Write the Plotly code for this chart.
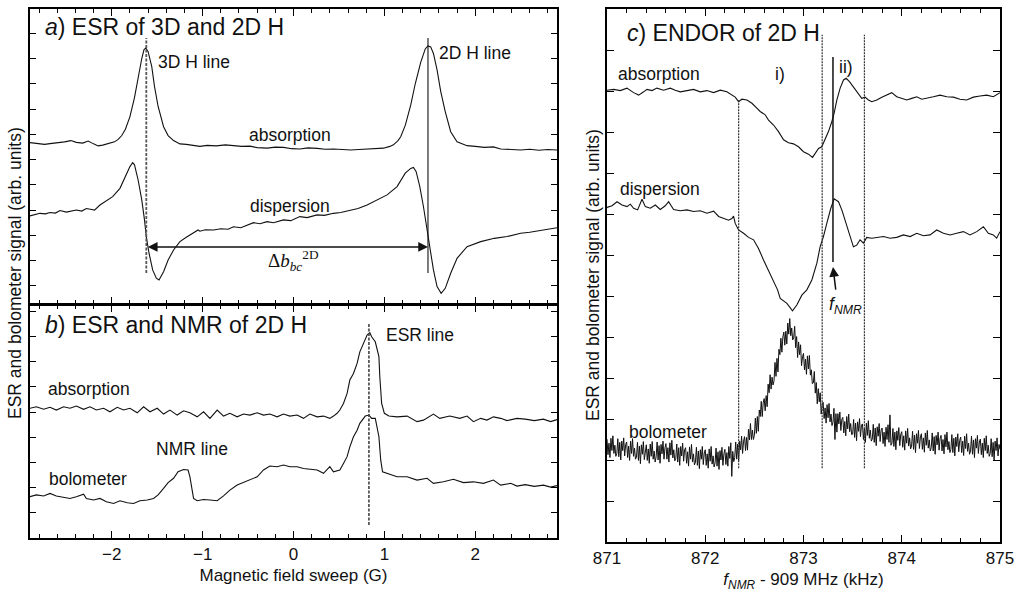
import numpy as np
import plotly.graph_objects as go

# ---------------- panel a: ESR of 3D and 2D H (field sweep, G) ----------------
a_abs_x = [-2.90, -2.80, -2.74, -2.68, -2.60, -2.52, -2.45, -2.39, -2.32, -2.26, -2.20, -2.15, -2.10,
           -2.03, -1.97, -1.93, -1.89, -1.85, -1.80, -1.75, -1.71, -1.67, -1.645, -1.625, -1.60, -1.56,
           -1.53, -1.49, -1.43, -1.38, -1.32, -1.25, -1.18, -1.10, -1.03, -0.95, -0.85, -0.75, -0.66,
           -0.57, -0.48, -0.40, -0.29, -0.20, -0.11, -0.02, 0.07, 0.16, 0.26, 0.35, 0.44, 0.53, 0.63,
           0.72, 0.81, 0.90, 0.99, 1.06, 1.10, 1.15, 1.18, 1.23, 1.29, 1.34, 1.40, 1.45, 1.48, 1.51,
           1.54, 1.58, 1.62, 1.67, 1.73, 1.80, 1.87, 1.91, 2.00, 2.10, 2.20, 2.28, 2.40, 2.50, 2.60,
           2.70, 2.80, 2.90]
a_abs_y = [5.67, 5.64, 5.60, 5.63, 5.66, 5.70, 5.75, 5.68, 5.65, 5.73, 5.62, 5.54, 5.57,
           5.63, 5.70, 5.80, 5.95, 6.20, 6.70, 7.45, 8.25, 9.00, 9.35, 9.41, 9.27, 8.68,
           7.90, 7.10, 6.30, 5.95, 5.75, 5.62, 5.60, 5.56, 5.52, 5.56, 5.54, 5.58, 5.56,
           5.52, 5.53, 5.47, 5.45, 5.49, 5.48, 5.43, 5.42, 5.46, 5.44, 5.41, 5.42, 5.39, 5.38,
           5.40, 5.41, 5.43, 5.45, 5.52, 5.58, 5.75, 5.90, 6.35, 7.15, 8.00, 8.85, 9.38, 9.50, 9.46,
           9.20, 8.55, 7.70, 6.90, 6.10, 5.70, 5.60, 5.55, 5.52, 5.48, 5.50, 5.42, 5.40, 5.38, 5.41,
           5.37, 5.40, 5.38]

a_disp_x = [-2.90, -2.84, -2.79, -2.73, -2.68, -2.62, -2.57, -2.50, -2.45, -2.39, -2.33, -2.28, -2.22,
            -2.19, -2.13, -2.06, -1.99, -1.91, -1.86, -1.80, -1.77, -1.75, -1.71, -1.67, -1.64, -1.62,
            -1.59, -1.55, -1.51, -1.48, -1.43, -1.38, -1.32, -1.25, -1.18, -1.10, -1.05, -1.03, -0.97,
            -0.88, -0.80, -0.72, -0.66, -0.58, -0.50, -0.44, -0.37, -0.29, -0.22, -0.15, -0.11, -0.03,
            0.07, 0.15, 0.26, 0.34, 0.44, 0.52, 0.63, 0.71, 0.81, 0.92, 1.03, 1.14, 1.23, 1.29, 1.32,
            1.35, 1.39, 1.43, 1.47, 1.51, 1.54, 1.58, 1.625, 1.67, 1.73, 1.80, 1.91, 2.06, 2.21, 2.35,
            2.50, 2.60, 2.70, 2.80, 2.90]
a_disp_y = [2.77, 2.84, 2.87, 2.85, 2.90, 2.88, 2.98, 2.92, 2.97, 3.00, 2.96, 3.06, 3.02,
            3.00, 3.20, 3.36, 3.53, 3.86, 4.26, 4.72, 4.88, 4.79, 4.19, 3.40, 2.61, 1.95,
            1.29, 0.63, 0.30, 0.23, 0.56, 1.02, 1.42, 1.75, 1.92, 2.08, 2.21, 2.16, 2.22,
            2.21, 2.26, 2.24, 2.34, 2.30, 2.40, 2.50, 2.46, 2.54, 2.50, 2.58, 2.61, 2.58,
            2.74, 2.70, 2.81, 2.79, 2.87, 2.90, 3.00, 3.06, 3.20, 3.40, 3.60, 3.93, 4.46, 4.65, 4.69,
            4.52, 3.93, 3.14, 2.21, 1.42, 0.63, -0.03, -0.30, -0.10, 0.50, 1.09, 1.55, 1.75, 1.88, 1.95,
            2.08, 2.12, 2.18, 2.25, 2.30]

line_3d = -1.62          # 3D H resonance field (G)
line_2d = 1.48           # 2D H resonance field (G)
a_marker_span = [0.51, 9.81]
delta_b_level = 1.54

# ---------------- panel b: ESR and NMR of 2D H ----------------
b_abs_x = [-2.90, -2.83, -2.75, -2.68, -2.61, -2.53, -2.46, -2.39, -2.31, -2.24, -2.17, -2.09, -2.02,
           -1.94, -1.87, -1.80, -1.72, -1.65, -1.58, -1.50, -1.43, -1.36, -1.28, -1.21, -1.14, -1.06,
           -0.99, -0.92, -0.84, -0.77, -0.70, -0.62, -0.55, -0.48, -0.40, -0.33, -0.26, -0.18, -0.11,
           -0.04, 0.04, 0.11, 0.18, 0.26, 0.33, 0.40, 0.44, 0.48, 0.51, 0.55, 0.59, 0.62, 0.66, 0.70,
           0.73, 0.77, 0.81, 0.84, 0.86, 0.90, 0.94, 0.95, 0.97, 1.00, 1.05, 1.14, 1.25, 1.36, 1.43,
           1.54, 1.61, 1.72, 1.83, 1.91, 1.98, 2.06, 2.13, 2.20, 2.28, 2.35, 2.46, 2.55, 2.65, 2.75,
           2.83, 2.90]
b_abs_y = [5.15, 5.21, 5.11, 5.19, 5.08, 5.21, 5.15, 5.24, 5.11, 5.21, 5.08, 5.15, 5.01,
           5.19, 5.08, 5.15, 4.97, 5.21, 5.01, 5.15, 4.92, 5.08, 4.88, 5.05, 4.97, 4.81,
           5.01, 4.75, 5.08, 4.84, 4.95, 4.81, 4.92, 4.88, 4.97, 4.88, 4.92, 4.81, 4.92,
           4.84, 4.88, 4.75, 4.92, 4.81, 4.84, 4.75, 4.84, 4.95, 5.08, 5.34, 5.74, 6.27, 6.53, 6.93,
           7.39, 7.72, 8.06, 8.15, 7.99, 7.79, 7.20, 6.40, 5.34, 4.95, 4.84, 4.81, 4.84, 4.62, 4.68,
           4.92, 4.75, 4.84, 4.75, 4.84, 4.62, 4.75, 4.68, 4.81, 4.75, 4.66, 4.75, 4.72, 4.66, 4.72,
           4.62, 4.70]

b_bolo_x = [-2.90, -2.83, -2.75, -2.68, -2.61, -2.53, -2.46, -2.39, -2.31, -2.28, -2.20, -2.13, -2.06,
            -1.98, -1.91, -1.83, -1.76, -1.69, -1.61, -1.54, -1.49, -1.43, -1.38, -1.32, -1.27, -1.21,
            -1.16, -1.14, -1.12, -1.10, -1.06, -0.99, -0.92, -0.84, -0.77, -0.70, -0.62, -0.55, -0.48,
            -0.40, -0.33, -0.26, -0.18, -0.11, -0.04, 0.04, 0.11, 0.18, 0.26, 0.33, 0.40, 0.44, 0.51,
            0.55, 0.59, 0.62, 0.66, 0.70, 0.73, 0.79, 0.83, 0.86, 0.90, 0.94, 0.96, 0.98, 1.03, 1.14,
            1.25, 1.36, 1.47, 1.54, 1.65, 1.76, 1.87, 1.98, 2.09, 2.20, 2.28, 2.39, 2.46, 2.55, 2.65,
            2.75, 2.83, 2.90]
b_bolo_y = [1.64, 1.71, 1.67, 1.77, 1.67, 1.61, 1.57, 1.64, 1.74, 1.57, 1.51, 1.57, 1.44,
            1.37, 1.48, 1.40, 1.37, 1.48, 1.51, 1.57, 1.71, 1.97, 2.20, 2.37, 2.63, 2.72,
            2.70, 2.43, 1.90, 1.57, 1.48, 1.53, 1.51, 1.48, 1.67, 1.90, 2.10, 2.20, 2.30,
            2.43, 2.70, 2.86, 2.83, 2.90, 2.83, 2.83, 2.76, 2.72, 2.70, 2.57, 2.83, 2.63, 2.70,
            2.96, 3.23, 3.62, 4.02, 4.28, 4.55, 4.84, 4.88, 4.75, 4.75, 4.02, 3.09, 2.63, 2.57, 2.43,
            2.43, 2.30, 2.37, 2.17, 2.23, 2.33, 2.20, 2.23, 2.17, 2.30, 2.10, 2.17, 2.06, 2.12, 2.05,
            2.10, 2.02, 2.08]

esr_line_2d = 0.83       # 2D H ESR line position (G)
b_marker_span = [0.52, 8.53]

# ---------------- panel c: ENDOR of 2D H (RF frequency, kHz) ----------------
c_abs_f = [871.000, 871.068, 871.136, 871.203, 871.271, 871.322, 871.373, 871.407, 871.458, 871.508,
           871.576, 871.644, 871.695, 871.746, 871.814, 871.881, 871.949, 872.017, 872.085, 872.153,
           872.220, 872.271, 872.305, 872.339, 872.373, 872.424, 872.475, 872.525, 872.559, 872.610,
           872.644, 872.695, 872.746, 872.797, 872.847, 872.898, 872.949, 873.000, 873.051, 873.092,
           873.119, 873.153, 873.186, 873.220, 873.254, 873.288, 873.312, 873.339, 873.373, 873.407,
           873.434, 873.468, 873.508, 873.559, 873.593, 873.627, 873.661, 873.695, 873.746, 873.797,
           873.847, 873.898, 873.949, 874.000, 874.051, 874.102, 874.153, 874.203, 874.254, 874.322,
           874.390, 874.458, 874.525, 874.593, 874.661, 874.729, 874.797, 874.864, 874.932, 875.000]
c_abs_y = [11.02, 11.04, 11.01, 11.07, 10.96, 10.90, 10.98, 11.04, 11.01, 11.07,
           11.02, 11.07, 11.02, 10.98, 11.01, 11.04, 10.98, 11.01, 10.96, 11.02,
           10.98, 10.90, 10.85, 10.74, 10.80, 10.78, 10.70, 10.58, 10.50, 10.42,
           10.29, 10.17, 10.01, 9.81, 9.74, 9.71, 9.64, 9.52, 9.46, 9.38,
           9.48, 9.60, 9.64, 9.81, 10.01, 10.25, 10.46, 10.78, 11.07, 11.27,
           11.31, 11.23, 11.09, 10.94, 10.82, 10.85, 10.78, 10.74, 10.78, 10.85,
           10.90, 10.96, 10.86, 10.82, 10.78, 10.82, 10.86, 10.80, 10.82, 10.86,
           10.90, 10.86, 10.85, 10.80, 10.78, 10.85, 10.88, 10.90, 10.86, 10.96]

c_disp_f = [871.000, 871.051, 871.102, 871.153, 871.203, 871.237, 871.271, 871.312, 871.356, 871.390,
            871.441, 871.492, 871.542, 871.593, 871.627, 871.678, 871.746, 871.814, 871.881, 871.949,
            872.017, 872.085, 872.136, 872.186, 872.237, 872.271, 872.288, 872.305, 872.339, 872.390,
            872.441, 872.492, 872.542, 872.593, 872.644, 872.695, 872.736, 872.763, 872.831, 872.888,
            872.932, 872.983, 873.034, 873.085, 873.136, 873.169, 873.203, 873.237, 873.278, 873.312,
            873.356, 873.390, 873.434, 873.475, 873.508, 873.542, 873.576, 873.610, 873.644, 873.695,
            873.746, 873.814, 873.881, 873.949, 874.017, 874.085, 874.153, 874.220, 874.288, 874.356,
            874.424, 874.492, 874.559, 874.627, 874.695, 874.763, 874.831, 874.881, 874.932, 874.966,
            875.000]
c_disp_y = [8.16, 8.20, 8.30, 8.22, 8.18, 8.24, 8.14, 8.10, 8.36, 8.18,
            8.14, 8.22, 8.11, 8.20, 8.30, 8.11, 8.08, 8.10, 8.06, 8.08,
            8.02, 8.07, 7.94, 7.89, 7.85, 7.89, 7.95, 7.77, 7.61, 7.53,
            7.43, 7.37, 7.16, 6.88, 6.63, 6.39, 6.15, 5.94, 5.82, 5.64,
            5.78, 6.02, 6.15, 6.39, 6.80, 7.20, 7.45, 7.77, 8.14, 8.37,
            8.30, 8.10, 7.77, 7.45, 7.20, 7.24, 7.37, 7.29, 7.43, 7.41,
            7.43, 7.45, 7.41, 7.43, 7.49, 7.45, 7.53, 7.47, 7.49, 7.61,
            7.53, 7.49, 7.53, 7.57, 7.49, 7.57, 7.69, 7.53, 7.49, 7.41,
            7.57]

# bolometer trace, recorded every 10 Hz across the sweep (one row = 0.1 kHz)
c_sweep = [871.0, 875.0]
c_bolo = [
    2.51, 2.13, 2.41, 2.06, 2.53, 2.23, 2.59, 2.16, 2.36, 2.09,
    2.16, 2.52, 2.08, 2.43, 2.00, 2.46, 2.23, 2.54, 2.10, 2.38,
    2.44, 2.06, 2.34, 1.99, 2.46, 2.16, 2.52, 2.09, 2.29, 2.02,
    2.07, 2.43, 1.99, 2.34, 1.91, 2.37, 2.14, 2.45, 2.01, 2.29,
    2.37, 1.99, 2.27, 1.92, 2.39, 2.09, 2.45, 2.02, 2.22, 1.95,
    2.08, 2.44, 2.00, 2.35, 1.92, 2.38, 2.15, 2.46, 2.02, 2.30,
    2.40, 2.02, 2.30, 1.95, 2.42, 2.12, 2.48, 2.05, 2.25, 1.98,
    2.03, 2.39, 1.95, 2.30, 1.87, 2.33, 2.10, 2.41, 1.97, 2.25,
    2.30, 1.92, 2.20, 1.85, 2.32, 2.02, 2.38, 1.95, 2.15, 1.88,
    1.95, 2.31, 1.87, 2.22, 1.79, 2.25, 2.02, 2.33, 1.89, 2.17,
    2.25, 1.87, 2.15, 1.80, 2.27, 1.97, 2.33, 1.90, 2.10, 1.83,
    1.93, 2.29, 1.85, 2.20, 1.77, 2.23, 2.00, 2.31, 1.87, 2.15,
    2.26, 1.89, 2.18, 1.85, 2.33, 2.04, 2.42, 1.60, 2.21, 1.96,
    2.06, 2.44, 2.02, 2.39, 1.98, 2.46, 2.25, 2.58, 2.16, 2.46,
    2.57, 2.23, 2.55, 2.24, 2.75, 2.49, 2.89, 2.50, 2.73, 2.50,
    2.60, 3.02, 2.65, 3.06, 2.70, 3.22, 3.06, 3.43, 3.06, 3.40,
    3.50, 3.20, 3.57, 3.30, 3.85, 3.64, 4.08, 3.73, 4.02, 3.83,
    3.93, 4.38, 4.04, 4.48, 4.15, 4.70, 4.57, 4.97, 4.63, 5.00,
    5.12, 4.80, 5.14, 4.83, 5.34, 5.07, 5.45, 5.03, 5.22, 4.93,
    4.98, 5.26, 4.74, 5.01, 4.50, 4.88, 4.57, 4.81, 4.30, 4.52,
    4.60, 4.20, 4.46, 4.09, 4.54, 4.22, 4.55, 4.07, 4.20, 3.86,
    3.88, 4.16, 3.63, 3.89, 3.37, 3.74, 3.42, 3.64, 3.12, 3.34,
    3.41, 3.01, 3.27, 2.90, 3.35, 3.03, 3.38, 2.93, 3.12, 2.84,
    2.92, 3.26, 2.50, 3.13, 2.68, 3.13, 2.88, 3.17, 2.72, 2.99,
    3.04, 2.66, 2.94, 2.59, 3.06, 2.76, 3.12, 2.69, 2.89, 2.62,
    2.63, 2.99, 2.55, 2.90, 2.47, 2.93, 2.70, 3.01, 2.57, 2.85,
    2.88, 2.50, 2.78, 2.43, 2.90, 2.60, 2.96, 2.53, 2.73, 2.46,
    2.51, 2.87, 2.43, 2.78, 2.35, 2.81, 2.58, 2.89, 2.45, 2.73,
    2.78, 2.40, 2.68, 2.33, 2.80, 2.50, 2.86, 2.43, 3.10, 2.36,
    2.41, 2.77, 2.33, 2.68, 2.25, 2.71, 2.48, 2.79, 2.35, 2.63,
    2.69, 2.31, 2.59, 2.24, 2.71, 2.41, 2.77, 2.34, 2.54, 2.27,
    2.34, 2.70, 2.26, 2.61, 2.18, 2.64, 2.41, 2.72, 2.28, 2.56,
    2.64, 2.26, 2.54, 2.19, 2.66, 2.36, 2.72, 2.29, 2.49, 2.22,
    2.30, 2.66, 2.22, 2.57, 2.14, 2.60, 2.37, 2.68, 2.24, 2.52,
    2.60, 2.22, 2.50, 2.15, 2.62, 2.32, 2.68, 2.25, 2.45, 2.18,
    2.26, 2.62, 2.18, 2.53, 2.10, 2.56, 2.33, 2.64, 2.20, 2.48,
    2.56, 2.18, 2.46, 2.11, 2.58, 2.28, 2.64, 2.21, 2.41, 2.14,
    2.22, 2.58, 2.14, 2.49, 2.06, 2.52, 2.29, 2.60, 2.16, 2.44,
    2.51, 2.13, 2.41, 2.06, 2.53, 2.23, 2.59, 2.16, 2.36, 2.09,
    2.16, 2.52, 2.08, 2.43, 2.00, 2.46, 2.23, 2.54, 2.10, 2.38,
    2.26]
c_bolo_f = np.linspace(c_sweep[0], c_sweep[1], len(c_bolo))

region_edges = [872.34, 873.19, 873.62]     # boundaries of regions i) and ii)
region_tops = [10.78, 12.37, 12.37]
region_bottom = 1.80
f_nmr = 873.30
f_nmr_span = [6.83, 11.83]

# ---------------- figure ----------------
FONT = "Liberation Sans, Arial, Helvetica, sans-serif"
INK = "#111111"
TRACE_W = 1.1

fig = go.Figure()


def trace(x, y, xa, ya, width=TRACE_W, color=INK, dash=None):
    fig.add_trace(go.Scatter(
        x=x, y=y, xaxis=xa, yaxis=ya, mode="lines", hoverinfo="skip",
        line=dict(color=color, width=width, dash=dash), showlegend=False))


# panel a
trace(a_abs_x, a_abs_y, "x", "y")
trace(a_disp_x, a_disp_y, "x", "y")
trace([line_3d, line_3d], a_marker_span, "x", "y", width=1.8, color="#555555", dash="3px,1.5px")
trace([line_2d, line_2d], a_marker_span, "x", "y", width=1.1)

# panel b
trace(b_abs_x, b_abs_y, "x2", "y2")
trace(b_bolo_x, b_bolo_y, "x2", "y2")
trace([esr_line_2d, esr_line_2d], b_marker_span, "x2", "y2", width=1.6, color="#444444", dash="3px,1.5px")

# panel c
trace(c_abs_f, c_abs_y, "x3", "y3")
trace(c_disp_f, c_disp_y, "x3", "y3")
trace(c_bolo_f, c_bolo, "x3", "y3", width=1.0)
for edge, top in zip(region_edges, region_tops):
    trace([edge, edge], [region_bottom, top], "x3", "y3", width=1.2, color="#333333", dash="2px,1px")
trace([f_nmr, f_nmr], f_nmr_span, "x3", "y3", width=1.5)

W, H = 1021, 594


def px_x(p):
    return p / W


def px_y(p):
    return 1 - p / H


left_dom = [px_x(30), px_x(557)]
right_dom = [px_x(607), px_x(1000)]

axis_common = dict(showgrid=False, zeroline=False, showline=True, linecolor="black", linewidth=1.5,
                   ticks="inside", tickcolor="black", mirror="ticks", automargin=False,
                   tickfont=dict(family=FONT, size=17, color=INK))
x_left = dict(axis_common, domain=left_dom, range=[-2.9, 2.9], tick0=0, dtick=1, ticklen=7,
              tickwidth=1.2, minor=dict(dtick=0.2, ticklen=4, ticks="inside", tickcolor="black",
                                        tickwidth=1))
y_common = dict(axis_common, showticklabels=False, tick0=0, dtick=1, ticklen=6, tickwidth=1.2)

fig.update_layout(
    width=W, height=H,
    margin=dict(l=0, r=0, t=0, b=0),
    paper_bgcolor="white", plot_bgcolor="white",
    font=dict(family=FONT, size=17, color=INK),
    xaxis=dict(x_left, anchor="y", showticklabels=False),
    # panel a sits 1.5 px higher so its bottom line coincides with panel b's top line
    yaxis=dict(y_common, domain=[px_y(303.5), px_y(9)], range=[-0.70, 10.96], anchor="x"),
    xaxis2=dict(x_left, anchor="y2", showticklabels=True,
                title=dict(text="Magnetic field sweep (G)", standoff=6,
                           font=dict(family=FONT, size=17, color=INK))),
    yaxis2=dict(y_common, domain=[px_y(538), px_y(305)], range=[0, 9.25], anchor="x2"),
    xaxis3=dict(axis_common, domain=right_dom, range=[871, 875], anchor="y3", tick0=871, dtick=1,
                ticklen=7, tickwidth=1.2,
                minor=dict(dtick=0.2, ticklen=4, ticks="inside", tickcolor="black", tickwidth=1),
                title=dict(text="<i>f</i><sub><i>NMR</i></sub> - 909 MHz (kHz)", standoff=6,
                           font=dict(family=FONT, size=17, color=INK))),
    yaxis3=dict(y_common, domain=[px_y(542), px_y(9)], range=[0, 13], anchor="x3", ticklen=7),
)

ann = []


def label(text, x, y, xref, yref, size=17.5, xanchor="center", family=FONT, angle=0):
    ann.append(dict(text=text, x=x, y=y, xref=xref, yref=yref, showarrow=False, xanchor=xanchor,
                    yanchor="middle", textangle=angle, font=dict(family=family, size=size, color=INK)))


# panel titles
label("<i>a</i>) ESR of 3D and 2D H", 0.0247, 0.939, "x domain", "y domain", size=23, xanchor="left")
label("<i>b</i>) ESR and NMR of 2D H", 0.0247, 0.914, "x2 domain", "y2 domain", size=23, xanchor="left")
label("<i>c</i>) ENDOR of 2D H", 0.046, 0.955, "x3 domain", "y3 domain", size=23, xanchor="left")

# panel a labels
label("3D H line", -1.10, 8.86, "x", "y")
label("2D H line", 2.00, 9.22, "x", "y")
label("absorption", -0.04, 5.97, "x", "y")
label("dispersion", -0.04, 3.16, "x", "y")
label("Δ<i>b</i><sub><i>bc</i></sub><sup>2D</sup>", 0.0, 1.0, "x", "y", size=19,
      family="Liberation Serif, Times New Roman, serif")
ann.append(dict(x=line_2d, y=delta_b_level, ax=line_3d, ay=delta_b_level, xref="x", yref="y",
                axref="x", ayref="y", text="", showarrow=True, arrowhead=2, arrowside="end+start",
                arrowsize=1.3, arrowwidth=1.5, arrowcolor=INK, standoff=0, startstandoff=0))

# panel b labels
label("ESR line", 1.39, 8.06, "x2", "y2")
label("absorption", -2.25, 5.91, "x2", "y2")
label("NMR line", -1.12, 3.53, "x2", "y2")
label("bolometer", -2.26, 2.34, "x2", "y2")

# panel c labels
label("absorption", 871.53, 11.41, "x3", "y3")
label("dispersion", 871.54, 8.61, "x3", "y3")
label("bolometer", 871.62, 2.68, "x3", "y3")
label("i)", 872.76, 11.41, "x3", "y3")
label("ii)", 873.43, 11.59, "x3", "y3")
label("<i>f</i><sub><i>NMR</i></sub>", 873.43, 5.78, "x3", "y3")
ann.append(dict(x=f_nmr, y=6.71, ax=873.33, ay=6.12, xref="x3", yref="y3", axref="x3", ayref="y3",
                text="", showarrow=True, arrowhead=2, arrowsize=1.3, arrowwidth=1.5, arrowcolor=INK,
                standoff=0))

# shared y titles
label("ESR and bolometer signal (arb. units)", px_x(15), px_y(273), "paper", "paper", angle=-90)
label("ESR and bolometer signal (arb. units)", px_x(593), px_y(275), "paper", "paper", angle=-90)

fig.update_layout(annotations=ann)
fig.write_html("out.html")
